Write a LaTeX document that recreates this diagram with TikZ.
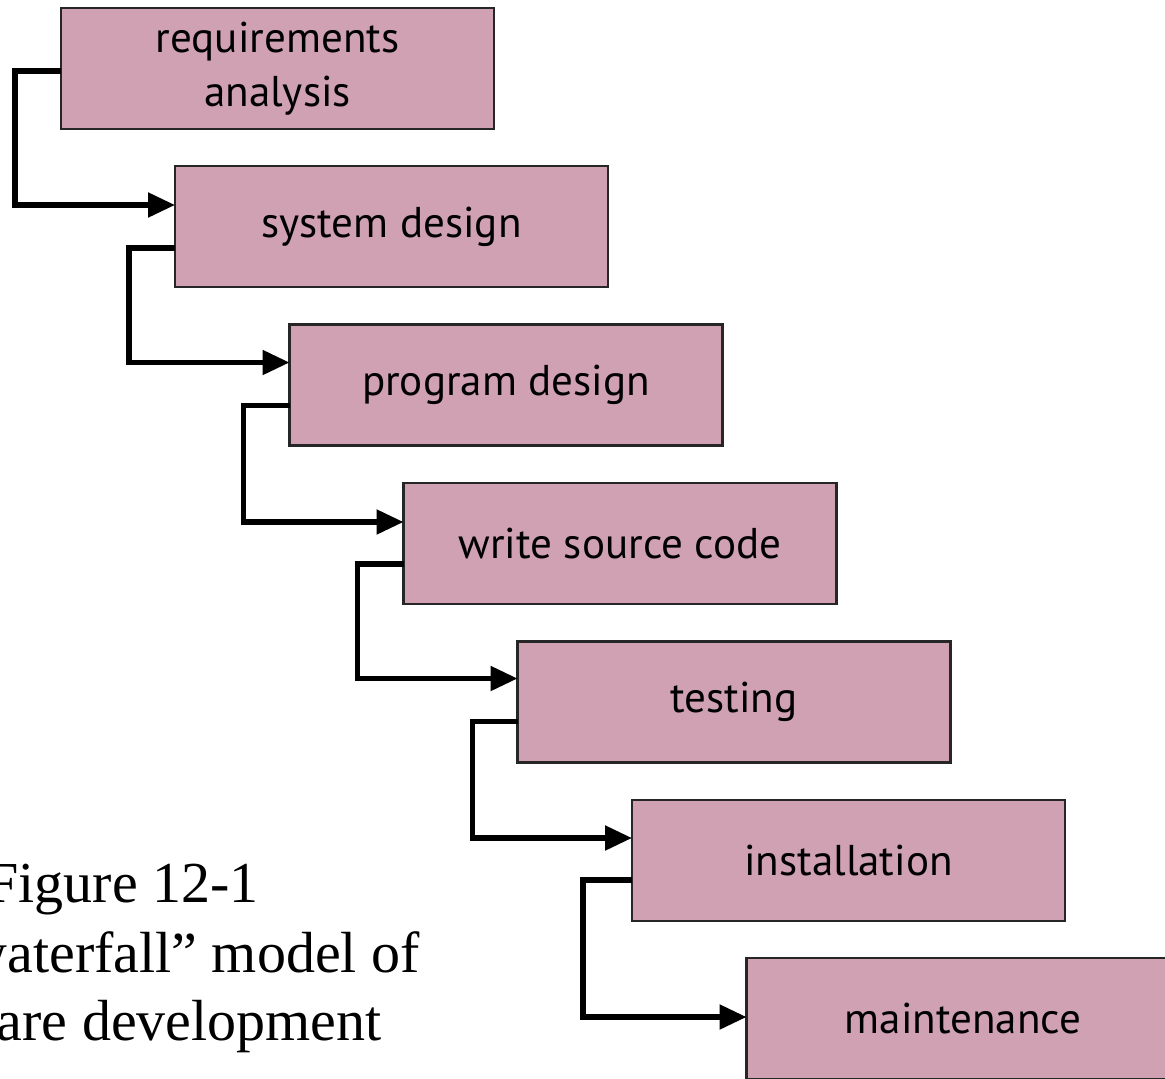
\documentclass[tikz,border=0pt]{standalone}
\usepackage{fontspec}
\setmainfont{Liberation Serif}
\newfontfamily\etapafont{PT Sans}
\usetikzlibrary{arrows.meta}
\definecolor{malva}{RGB}{207,161,178}

\begin{document}
\begin{tikzpicture}[
  etapa/.style={draw=black!85,line width=1.4pt,fill=malva,anchor=north west,
    minimum width=8.66cm,minimum height=2.42cm,inner sep=0pt,outer sep=0pt,
    align=center,font=\etapafont\fontsize{24.5}{31}\selectfont},
  flecha/.style={line width=3pt,-{Triangle[length=5.4mm,width=4.8mm]}},
  leyenda/.style={anchor=base east,inner sep=0pt,font=\fontsize{33}{39}\selectfont}]
  \useasboundingbox (0,0) rectangle (23.3,-21.56);

  \node[etapa] (req) at (1.22,-0.16) {requirements\\analysis};
  \node[etapa] (sis) at (3.50,-3.32) {system design};
  \node[etapa] (prog) at (5.79,-6.49) {program design};
  \node[etapa] (cod) at (8.07,-9.66) {write source code};
  \node[etapa] (test) at (10.35,-12.83) {testing};
  \node[etapa] (inst) at (12.64,-16.00) {installation};
  \node[etapa] (mant) at (14.93,-19.16) {maintenance};

  \draw[flecha] ([yshift=-1.26cm]req.north west) -- ++(-0.92,0) |- ([yshift=-0.78cm]sis.north west);
  \draw[flecha] ([yshift=-1.64cm]sis.north west) -- ++(-0.92,0) |- ([yshift=-0.76cm]prog.north west);
  \draw[flecha] ([yshift=-1.62cm]prog.north west) -- ++(-0.92,0) |- ([yshift=-0.78cm]cod.north west);
  \draw[flecha] ([yshift=-1.62cm]cod.north west) -- ++(-0.92,0) |- ([yshift=-0.74cm]test.north west);
  \draw[flecha] ([yshift=-1.60cm]test.north west) -- ++(-0.90,0) |- ([yshift=-0.76cm]inst.north west);
  \draw[flecha] ([yshift=-1.60cm]inst.north west) -- ++(-0.98,0) |- ([yshift=-1.18cm]mant.north west);

  \node[leyenda] (fig) at (5.18,-18.04) {Figure 12-1};
  \node[leyenda] (tit) at (8.40,-19.44) {The “waterfall” model of};
  \node[leyenda] (sub) at (7.64,-20.80) {software development};
\end{tikzpicture}
\end{document}
